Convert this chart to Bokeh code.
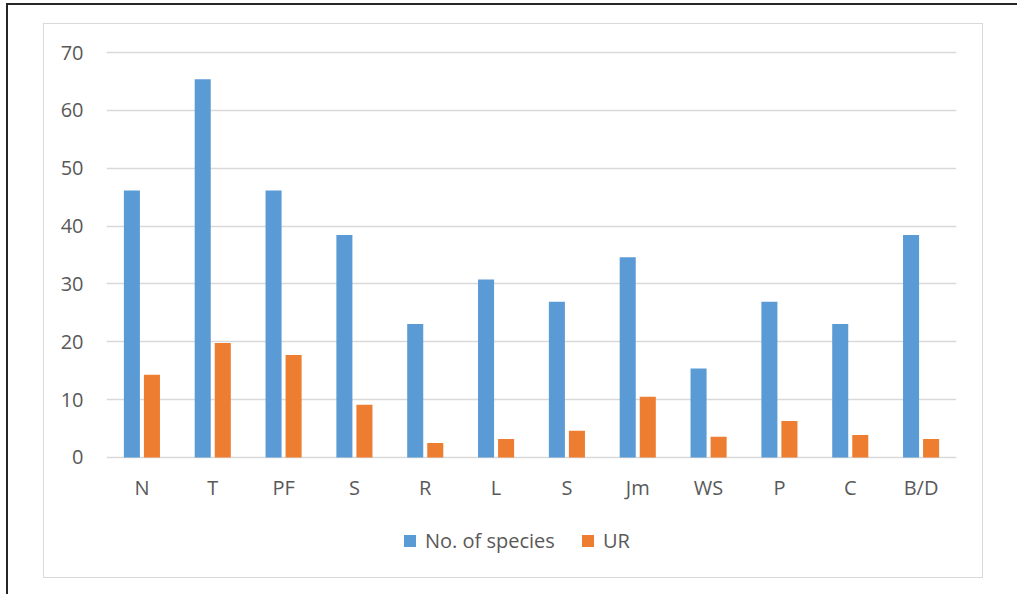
from bokeh.plotting import figure
from bokeh.layouts import column
from bokeh.models import Range1d, FixedTicker, Legend, LegendItem
from bokeh.embed import file_html
from bokeh.resources import INLINE

categories = ["N", "T", "PF", "S", "R", "L", "S", "Jm", "WS", "P", "C", "B/D"]
species = [46.15, 65.38, 46.15, 38.46, 23.08, 30.77, 26.92, 34.62, 15.38, 26.92, 23.08, 38.46]
ur = [14.3, 19.8, 17.7, 9.1, 2.5, 3.2, 4.6, 10.5, 3.6, 6.3, 3.9, 3.2]
y_ticks = [0, 10, 20, 30, 40, 50, 60, 70]
series_names = ["No. of species", "UR"]

BLUE = "#5B9BD5"
ORANGE = "#ED7D31"
TXT = "#595959"
GRID = "#D9D9D9"
FONT = "Open Sans"

xs = list(range(len(categories)))
off = 0.1415
bw = 0.2265

# main chart
W, HA, HB = 940, 492, 63
p = figure(width=W, height=HA, output_backend="svg", toolbar_location=None,
           x_range=Range1d(-0.5, 11.5), y_range=Range1d(-0.35, 70.35),
           min_border_left=62, min_border_right=28, min_border_top=26, min_border_bottom=57)
p.outline_line_color = None
p.background_fill_color = "white"
p.border_fill_color = "white"
p.margin = (18, 0, 0, 35)
p.styles = {"border-top": "1.5px solid " + GRID, "border-left": "1.5px solid " + GRID,
            "border-right": "1.5px solid " + GRID}

p.vbar(x=[x - off for x in xs], top=species, width=bw, color=BLUE, line_color=None)
p.vbar(x=[x + off for x in xs], top=ur, width=bw, color=ORANGE, line_color=None)

p.xaxis.ticker = FixedTicker(ticks=xs)
p.xaxis.major_label_overrides = {i: c for i, c in enumerate(categories)}
p.yaxis.ticker = FixedTicker(ticks=y_ticks)
for ax in (p.xaxis, p.yaxis):
    ax.axis_line_color = None
    ax.major_tick_line_color = None
    ax.minor_tick_line_color = None
    ax.major_tick_out = 0
    ax.major_tick_in = 0
    ax.major_label_text_font = FONT
    ax.major_label_text_font_size = "20px"
    ax.major_label_text_color = TXT
p.xaxis.major_label_standoff = 14
p.yaxis.major_label_standoff = 23
p.xgrid.grid_line_color = None
p.ygrid.grid_line_color = GRID
p.ygrid.grid_line_width = 1.5

# legend strip (same series, bars kept far outside its view)
lg = figure(width=W, height=HB, output_backend="svg", toolbar_location=None,
            x_range=Range1d(-0.5, 11.5), y_range=Range1d(1000, 1001),
            x_axis_location=None, y_axis_location=None,
            min_border_left=0, min_border_right=0, min_border_top=0, min_border_bottom=0)
lg.grid.visible = False
lg.outline_line_color = None
lg.margin = (0, 0, 0, 35)
lg.styles = {"border-bottom": "1.5px solid " + GRID, "border-left": "1.5px solid " + GRID,
             "border-right": "1.5px solid " + GRID}
l1 = lg.vbar(x=[x - off for x in xs], top=species, width=bw, color=BLUE, line_color=None)
l2 = lg.vbar(x=[x + off for x in xs], top=ur, width=bw, color=ORANGE, line_color=None)
legend = Legend(items=[LegendItem(label=series_names[0], renderers=[l1]),
                       LegendItem(label=series_names[1], renderers=[l2])],
                location=(296, 24), orientation="horizontal",
                label_text_font=FONT, label_text_font_size="20px", label_text_color=TXT,
                glyph_width=15, glyph_height=15, label_standoff=8, spacing=25,
                padding=0, margin=0, border_line_color=None, background_fill_alpha=0)
lg.add_layout(legend, "center")

page = column(p, lg, spacing=0)
page.margin = (3, 0, 0, 6)
page.styles = {"border-left": "2px solid #262626", "border-top": "2px solid #262626",
               "width": "1011px", "height": "591px"}

open("out.html", "w").write(file_html(page, INLINE))
